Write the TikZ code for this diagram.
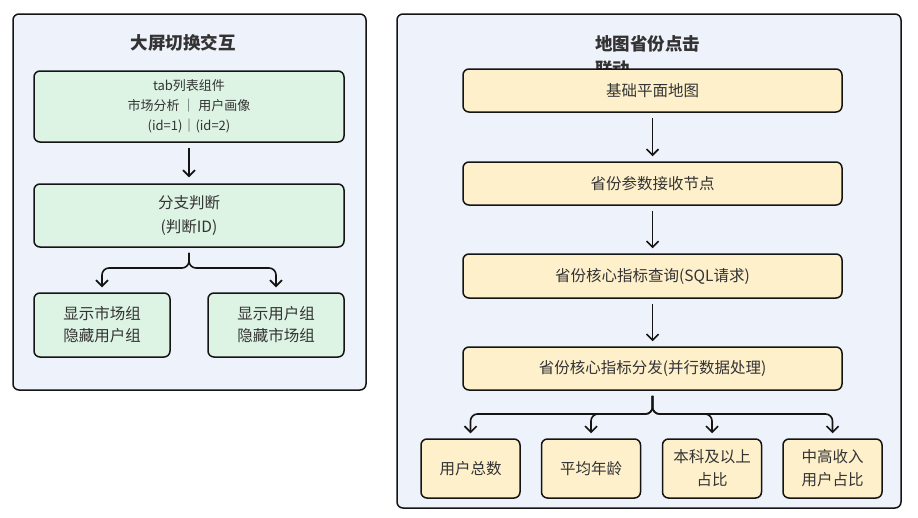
\documentclass[tikz,border=0pt]{standalone}
\usepackage{fontspec}
\setmainfont{Noto Sans CJK SC}
\usetikzlibrary{arrows.meta}
\definecolor{panelbg}{HTML}{EEF2FB}
\definecolor{greenbg}{HTML}{DDF3E4}
\definecolor{yellowbg}{HTML}{FEF0CB}
\definecolor{txt}{HTML}{333333}
\definecolor{edge}{HTML}{141414}
\tikzset{
  panel/.style={draw=edge, line width=1.5pt, fill=panelbg, rounded corners=6pt},
  ptitle/.style={text=txt, font=\fontsize{17.5pt}{22pt}\selectfont\bfseries},
  gbox/.style={draw=edge, line width=1.5pt, fill=greenbg, rounded corners=6pt, align=center, text=txt, inner sep=0pt},
  ybox/.style={draw=edge, line width=1.5pt, fill=yellowbg, rounded corners=6pt, align=center, text=txt, inner sep=0pt},
  midfont/.style={font=\fontsize{15.5pt}{23pt}\selectfont},
  arr/.style={draw=edge, line width=1.6pt, -{Straight Barb[length=6pt,width=12pt,line width=1.6pt]}},
}
\begin{document}
\begin{tikzpicture}[x=1pt,y=-1pt]
\useasboundingbox (0,0) rectangle (918,517);
% panels
\draw[panel] (13,14) rectangle (366,390);
\draw[panel] (397,14) rectangle (901,508);
% left panel
\node[ptitle] (ltitle) at (183,43) {大屏切换交互};
\node[gbox, minimum width=310pt, minimum height=71pt, font=\fontsize{13pt}{20pt}\selectfont] (l1) at (189,106.5)
  {tab列表组件\\市场分析 ｜ 用户画像\\(id=1)｜(id=2)};
\node[gbox, minimum width=310pt, minimum height=63pt, font=\fontsize{15.5pt}{24pt}\selectfont] (l2) at (189,215.5)
  {分支判断\\(判断ID)};
\node[gbox, minimum width=136pt, minimum height=64pt, font=\fontsize{15.5pt}{22pt}\selectfont] (l3) at (102,325)
  {显示市场组\\隐藏用户组};
\node[gbox, minimum width=136pt, minimum height=64pt, font=\fontsize{15.5pt}{22pt}\selectfont] (l4) at (276,325)
  {显示用户组\\隐藏市场组};
\draw[arr, shorten <=5pt, shorten >=6pt] (l1.south) -- (l2.north);
\coordinate (lj) at (189,268);
\draw[arr, rounded corners=7pt, shorten <=5pt, shorten >=5pt] (l2.south) -- (lj) -| (l3.north);
\draw[arr, rounded corners=7pt, shorten <=5pt, shorten >=5pt] (l2.south) -- (lj) -| (l4.north);
% right panel
\node[ptitle, text width=110pt, align=left, font=\fontsize{17.5pt}{25pt}\selectfont\bfseries] (rtitle) at (650,56) {地图省份点击\\联动};
\node[ybox, midfont, minimum width=379pt, minimum height=43pt] (r1) at (652.5,90.5) {基础平面地图};
\node[ybox, midfont, minimum width=379pt, minimum height=43pt] (r2) at (652.5,183.5) {省份参数接收节点};
\node[ybox, midfont, minimum width=379pt, minimum height=44pt] (r3) at (652.5,276) {省份核心指标查询(SQL请求)};
\node[ybox, midfont, minimum width=379pt, minimum height=43pt] (r4) at (652.5,368.5) {省份核心指标分发(并行数据处理)};
\draw[arr, shorten <=5pt, shorten >=5pt] (r1.south) -- (r2.north);
\draw[arr, shorten <=5pt, shorten >=5pt] (r2.south) -- (r3.north);
\draw[arr, shorten <=5pt, shorten >=5pt] (r3.south) -- (r4.north);
\node[ybox, midfont, minimum width=99pt, minimum height=59pt] (b1) at (470.5,468.5) {用户总数};
\node[ybox, midfont, minimum width=99pt, minimum height=59pt] (b2) at (591,468.5) {平均年龄};
\node[ybox, midfont, minimum width=99pt, minimum height=59pt] (b3) at (712,468.5) {本科及以上\\占比};
\node[ybox, midfont, minimum width=99pt, minimum height=59pt] (b4) at (832.5,468.5) {中高收入\\用户占比};
\coordinate (rj) at (652.5,414);
\foreach \b in {b1,b2,b3,b4}
  \draw[arr, rounded corners=7pt, shorten <=5pt, shorten >=5pt] (r4.south) -- (rj) -| (\b.north);
\end{tikzpicture}
\end{document}
